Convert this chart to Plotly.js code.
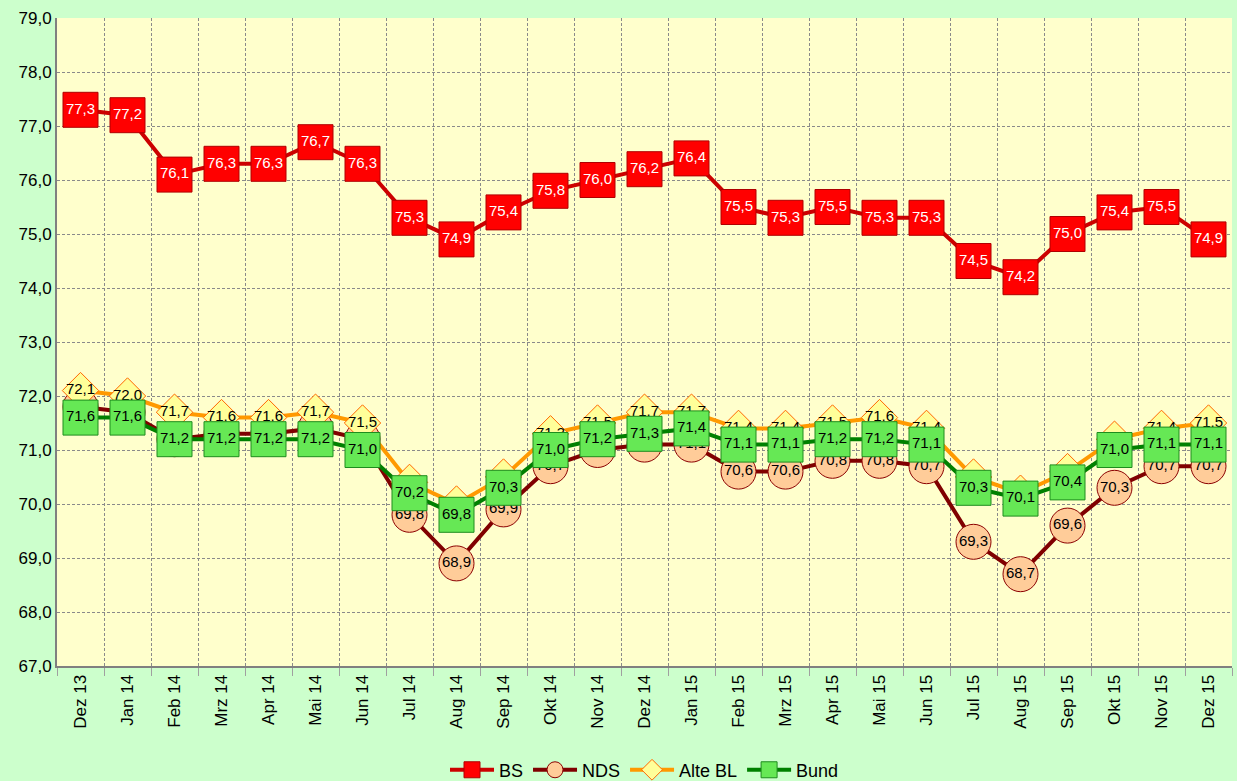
<!DOCTYPE html>
<html>
<head>
<meta charset="utf-8">
<script src="https://cdn.plot.ly/plotly-3.0.1.min.js"></script>
<style>html,body{margin:0;padding:0;background:#CCFFCC;}#chart{width:1237px;height:781px;}</style>
</head>
<body>
<div id="chart"></div>
<script>
const categories = ["Dez 13","Jan 14","Feb 14","Mrz 14","Apr 14","Mai 14","Jun 14","Jul 14","Aug 14","Sep 14","Okt 14","Nov 14","Dez 14","Jan 15","Feb 15","Mrz 15","Apr 15","Mai 15","Jun 15","Jul 15","Aug 15","Sep 15","Okt 15","Nov 15","Dez 15"];
const bs     = [77.3,77.2,76.1,76.3,76.3,76.7,76.3,75.3,74.9,75.4,75.8,76.0,76.2,76.4,75.5,75.3,75.5,75.3,75.3,74.5,74.2,75.0,75.4,75.5,74.9];
const nds    = [71.8,71.7,71.2,71.3,71.3,71.4,71.2,69.8,68.9,69.9,70.7,71.0,71.1,71.1,70.6,70.6,70.8,70.8,70.7,69.3,68.7,69.6,70.3,70.7,70.7];
const alteBL = [72.1,72.0,71.7,71.6,71.6,71.7,71.5,70.4,70.0,70.5,71.3,71.5,71.7,71.7,71.4,71.4,71.5,71.6,71.4,70.5,70.2,70.6,71.2,71.4,71.5];
const bund   = [71.6,71.6,71.2,71.2,71.2,71.2,71.0,70.2,69.8,70.3,71.0,71.2,71.3,71.4,71.1,71.1,71.2,71.2,71.1,70.3,70.1,70.4,71.0,71.1,71.1];
const yTicks = [67,68,69,70,71,72,73,74,75,76,77,78,79];

const fmt = v => v.toFixed(1).replace('.', ',');
const FONT = 'Liberation Sans, Arial, sans-serif';

function tr(name, y, lineColor, sym, size, fill, border, textColor, rank) {
  return {
    type: 'scatter', mode: 'lines+markers+text', name: name,
    x: categories, y: y,
    text: y.map(fmt), textposition: 'middle center',
    textfont: {family: FONT, size: 15, color: textColor},
    line: {color: lineColor, width: 4},
    marker: {symbol: sym, size: size, color: fill, line: {color: border, width: 1}},
    legendrank: rank, hoverinfo: 'x+y', cliponaxis: false
  };
}

const data = [
  tr('NDS', nds, '#800000', 'circle', 35, '#FFCC99', '#8B0000', '#000000', 2),
  tr('Alte BL', alteBL, '#FF9900', 'diamond', 28, '#FFFF99', '#FF6600', '#000000', 3),
  tr('Bund', bund, '#008000', 'square', 35, '#66E855', '#1E8C1E', '#000000', 4),
  tr('BS', bs, '#CC0000', 'square', 35, '#FF0000', '#B00000', '#FFFFFF', 1)
];

const layout = {
  width: 1237, height: 781,
  paper_bgcolor: '#CCFFCC', plot_bgcolor: '#FFFFCC',
  separators: ',.',
  margin: {l: 57, r: 5, t: 18, b: 115, autoexpand: false},
  font: {family: FONT, size: 17, color: '#000000'},
  showlegend: true,
  legend: {orientation: 'h', x: 0.5, xanchor: 'center', yref: 'container', y: 0.014, yanchor: 'middle',
           font: {family: FONT, size: 18}, bgcolor: 'rgba(0,0,0,0)', itemwidth: 44, traceorder: 'normal'},
  xaxis: {
    type: 'category', range: [-0.5, 24.5], tickson: 'boundaries',
    tickangle: -90, tickfont: {family: FONT, size: 17}, automargin: false,
    showgrid: true, gridcolor: '#8A8A8A', griddash: '3px,2px', gridwidth: 1,
    showline: true, linecolor: '#808080', linewidth: 2,
    ticks: 'outside', ticklen: 8, tickcolor: '#A0A0A0',
    zeroline: false, fixedrange: true
  },
  yaxis: {
    range: [67, 79], tickvals: yTicks, ticktext: yTicks.map(fmt),
    tickfont: {family: FONT, size: 17}, automargin: false,
    showgrid: true, gridcolor: '#8A8A8A', griddash: '3px,2px', gridwidth: 1,
    showline: true, linecolor: '#808080', linewidth: 2,
    ticks: '', zeroline: false, fixedrange: true
  }
};

Plotly.newPlot('chart', data, layout, {displayModeBar: false, staticPlot: true});
</script>
</body>
</html>
